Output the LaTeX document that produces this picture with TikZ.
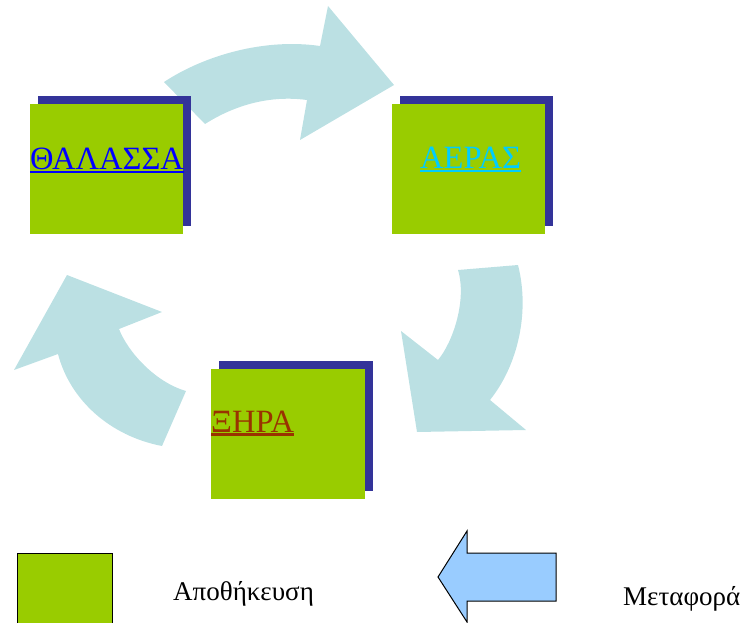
\documentclass[tikz,border=0pt]{standalone}
\usepackage{fontspec}
\setmainfont{Liberation Serif}
\usetikzlibrary{shadows}

\definecolor{storegreen}{HTML}{99CC00}
\definecolor{shadowblue}{HTML}{333399}
\definecolor{flowblue}{HTML}{BBE0E3}
\definecolor{keyblue}{HTML}{99CCFF}
\definecolor{seablue}{HTML}{0000FF}
\definecolor{aircyan}{HTML}{00CCFF}
\definecolor{landred}{HTML}{993300}

\begin{document}
\begin{tikzpicture}[x=1pt,y=-1pt,
    store/.style={fill=storegreen, minimum width=153pt, minimum height=130pt,
      inner sep=0pt, drop shadow={shadow xshift=8pt, shadow yshift=8pt,
      fill=shadowblue, opacity=1}},
    flow/.style={fill=flowblue},
    place/.style={anchor=base west, inner sep=0pt, font=\fontsize{32.5}{39}\selectfont},
    uline/.style={line width=2.5pt},
    legend/.style={anchor=base west, inner sep=0pt, font=\fontsize{27}{32}\selectfont}]
  \useasboundingbox (0,0) rectangle (752,623);
  % Ways
  \fill[flow] (164,82) .. controls (205,55) and (265,38) .. (320,46) -- (328,6)
    -- (394,85) -- (300,140) -- (307,100)
    .. controls (270,95) and (235,105) .. (205,124) -- cycle;
  \fill[flow] (458,270) -- (518,265) .. controls (530,312) and (518,365) .. (490,400)
    -- (526,430) -- (417,432) -- (401,331) -- (438,360)
    .. controls (453,342) and (467,300) .. (458,270) -- cycle;
  \fill[flow] (14,370) -- (67,275) -- (162,312) -- (119,329)
    .. controls (128,352) and (155,382) .. (186,391) -- (162,446)
    .. controls (110,436) and (70,400) .. (58,354) -- cycle;
  % Stores
  \node[store] (thalassa) at (106.5,169) {};
  \node[store] (aeras) at (468.5,169) {};
  \node[store, minimum width=154pt] (xira) at (288,434) {};
  % Labels
  \node[place, text=seablue] (thalassatext) at (30,169) {ΘΑΛΑΣΣΑ};
  \draw[uline, seablue] ([yshift=-3pt]thalassatext.base west) -- ([yshift=-3pt]thalassatext.base east);
  \node[place, text=aircyan] (aerastext) at (420,168) {ΑΕΡΑΣ};
  \draw[uline, aircyan] ([yshift=-3pt]aerastext.base west) -- ([yshift=-3pt]aerastext.base east);
  \node[place, text=landred] (xiratext) at (211,432) {ΞΗΡΑ};
  \draw[uline, landred] ([yshift=-2.5pt]xiratext.base west) -- ([yshift=-2.5pt]xiratext.base east);
  % Legend
  \draw[fill=storegreen, line width=1pt] (17,553) rectangle (112,630);
  \node[legend] (storekey) at (173,600) {Αποθήκευση};
  \draw[fill=keyblue, line width=1pt] (438,577) -- (467,531) -- (467,553) -- (556,553)
    -- (556,601) -- (467,601) -- (467,622) -- cycle;
  \node[legend] (flowkey) at (623,605) {Μεταφορά};
\end{tikzpicture}
\end{document}
